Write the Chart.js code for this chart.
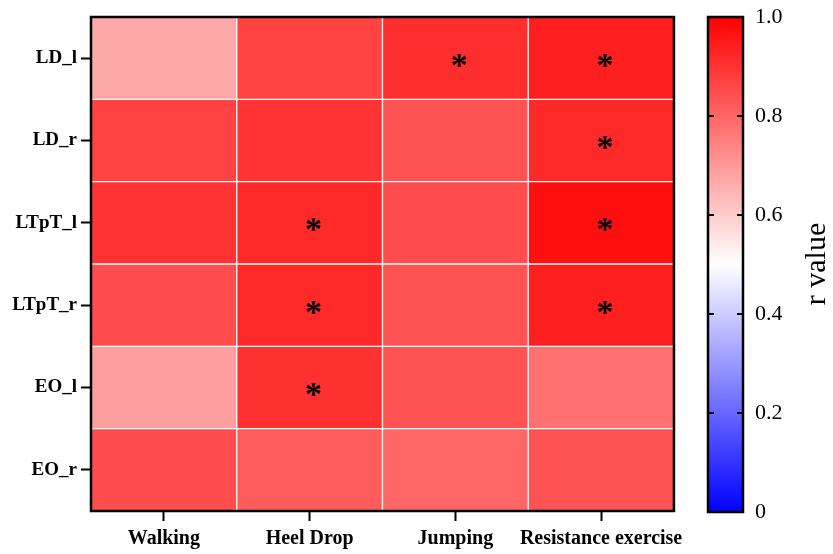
<!DOCTYPE html>
<html>
<head>
<meta charset="utf-8">
<script src="https://cdn.jsdelivr.net/npm/chart.js@4.4.1/dist/chart.umd.min.js"></script>
<style>
  html, body { margin: 0; padding: 0; background: #fff; }
  #wrap { position: relative; width: 833px; height: 554px; }
  #heat { position: absolute; left: 0; top: 0; }
  #bar { position: absolute; left: 690px; top: 0; }
</style>
</head>
<body>
<div id="wrap">
  <canvas id="heat" width="690" height="554"></canvas>
  <canvas id="bar" width="143" height="554"></canvas>
</div>
<script>
// columns (x) and rows (y, top to bottom)
const columns = ["Walking", "Heel Drop", "Jumping", "Resistance exercise"];
const rows = ["LD_l", "LD_r", "LTpT_l", "LTpT_r", "EO_l", "EO_r"];

// r values per row, in column order
const ldL   = [0.67, 0.87, 0.91, 0.94];
const ldR   = [0.87, 0.90, 0.84, 0.92];
const ltptL = [0.90, 0.92, 0.85, 0.97];
const ltptR = [0.85, 0.92, 0.84, 0.94];
const eoL   = [0.69, 0.905, 0.84, 0.78];
const eoR   = [0.85, 0.82, 0.80, 0.84];

// significance marks (*) per row
const sigLdL   = [0, 0, 1, 1];
const sigLdR   = [0, 0, 0, 1];
const sigLtptL = [0, 1, 0, 1];
const sigLtptR = [0, 1, 0, 1];
const sigEoL   = [0, 1, 0, 0];
const sigEoR   = [0, 0, 0, 0];

const colorTicks = [0, 0.2, 0.4, 0.6, 0.8, 1.0];

const values = [ldL, ldR, ltptL, ltptR, eoL, eoR];
const sigs = [sigLdL, sigLdR, sigLtptL, sigLtptR, sigEoL, sigEoR];

function rColor(v) {
  if (v >= 0.5) {
    const g = Math.round(255 * (1 - v) * 2);
    return `rgb(255,${g},${g})`;
  }
  const g = Math.round(255 * v * 2);
  return `rgb(${g},${g},255)`;
}

const serif = '"Liberation Serif", "Times New Roman", serif';
const nRows = rows.length;

const datasets = rows.map((name, i) => ({
  label: name,
  data: columns.map(() => [nRows - 1 - i, nRows - i]),
  backgroundColor: values[i].map(rColor),
  borderColor: "rgba(255,255,255,0.15)",
  borderWidth: 1,
  borderSkipped: false,
  grouped: false,
  barPercentage: 1,
  categoryPercentage: 1
}));

const framePlugin = {
  id: "frame",
  afterDatasetsDraw(chart) {
    const { ctx, scales } = chart;
    // asterisks
    ctx.save();
    ctx.fillStyle = "#000";
    ctx.font = "bold 34px " + serif;
    ctx.textAlign = "center";
    ctx.textBaseline = "alphabetic";
    const m = ctx.measureText("*");
    const off = (m.actualBoundingBoxAscent - m.actualBoundingBoxDescent) / 2;
    sigs.forEach((row, i) => {
      row.forEach((s, j) => {
        if (!s) return;
        const x = scales.x.getPixelForValue(j) + 4;
        const y = scales.y.getPixelForValue(nRows - 1 - i + 0.5) + 2;
        ctx.fillText("*", x, y + off);
      });
    });
    ctx.restore();
  },
  afterDraw(chart) {
    const { ctx, chartArea: a } = chart;
    ctx.save();
    ctx.strokeStyle = "#000";
    ctx.lineWidth = 2.5;
    ctx.strokeRect(a.left, a.top, a.right - a.left, a.bottom - a.top);
    ctx.restore();
  }
};

new Chart(document.getElementById("heat"), {
  type: "bar",
  data: { labels: columns, datasets },
  options: {
    responsive: false,
    animation: false,
    layout: { padding: { top: 17, right: 14, left: 0, bottom: 0 } },
    plugins: { legend: { display: false }, tooltip: { enabled: false } },
    scales: {
      x: {
        grid: { offset: false, drawOnChartArea: false, drawTicks: true, tickLength: 10, tickColor: "#000", tickWidth: 2 },
        border: { display: false },
        ticks: { color: "#000", font: { family: serif, size: 20, weight: "bold" }, padding: 6, maxRotation: 0, autoSkip: false },
        afterFit(scale) { scale.height = 43; }
      },
      y: {
        min: 0,
        max: nRows,
        grid: { drawOnChartArea: false, drawTicks: true, tickLength: 10, tickColor: "#000", tickWidth: 2 },
        border: { display: false },
        afterBuildTicks(scale) {
          scale.ticks = rows.map((_, i) => ({ value: i + 0.5 }));
        },
        ticks: {
          color: "#000",
          font: { family: serif, size: 19, weight: "bold" },
          padding: 4,
          callback: (v, idx) => rows[nRows - 1 - idx]
        },
        afterFit(scale) { scale.width = 91; }
      }
    }
  },
  plugins: [framePlugin]
});

// colour bar
const colorbarPlugin = {
  id: "colorbar",
  afterDraw(chart) {
    const { ctx, chartArea: a, scales } = chart;
    ctx.save();
    ctx.strokeStyle = "#000";
    ctx.lineWidth = 2;
    colorTicks.slice(1, -1).forEach(v => {
      const y = scales.y.getPixelForValue(v);
      ctx.beginPath();
      ctx.moveTo(a.left, y); ctx.lineTo(a.left + 6, y);
      ctx.moveTo(a.right - 6, y); ctx.lineTo(a.right, y);
      ctx.stroke();
    });
    ctx.lineWidth = 2.5;
    ctx.strokeRect(a.left, a.top, a.right - a.left, a.bottom - a.top);
    ctx.translate(127, 264);
    ctx.rotate(-Math.PI / 2);
    ctx.fillStyle = "#000";
    ctx.font = "30px " + serif;
    ctx.textAlign = "center";
    ctx.textBaseline = "middle";
    ctx.fillText("r value", 0, 0);
    ctx.restore();
  }
};

new Chart(document.getElementById("bar"), {
  type: "bar",
  data: {
    labels: ["r"],
    datasets: [{
      data: [[0, 1]],
      backgroundColor(c) {
        const a = c.chart.chartArea;
        if (!a) return "#fff";
        const g = c.chart.ctx.createLinearGradient(0, a.bottom, 0, a.top);
        g.addColorStop(0, rColor(0));
        g.addColorStop(0.5, rColor(0.5));
        g.addColorStop(1, rColor(1));
        return g;
      },
      borderWidth: 0,
      barPercentage: 1,
      categoryPercentage: 1
    }]
  },
  options: {
    responsive: false,
    animation: false,
    layout: { padding: { top: 17, left: 18, right: 0, bottom: 42 } },
    plugins: { legend: { display: false }, tooltip: { enabled: false } },
    scales: {
      x: { display: false },
      y: {
        position: "right",
        min: 0,
        max: 1,
        afterBuildTicks(scale) {
          scale.ticks = colorTicks.map(v => ({ value: v }));
        },
        grid: { drawOnChartArea: false, drawTicks: false },
        border: { display: false },
        ticks: {
          color: "#000",
          font: { family: serif, size: 22 },
          padding: 12,
          callback: v => (v === 0 ? "0" : v.toFixed(1))
        },
        afterFit(scale) {
          scale.width = 90;
          scale.paddingTop = 0;
          scale.paddingBottom = 0;
        }
      }
    }
  },
  plugins: [colorbarPlugin]
});
</script>
</body>
</html>
